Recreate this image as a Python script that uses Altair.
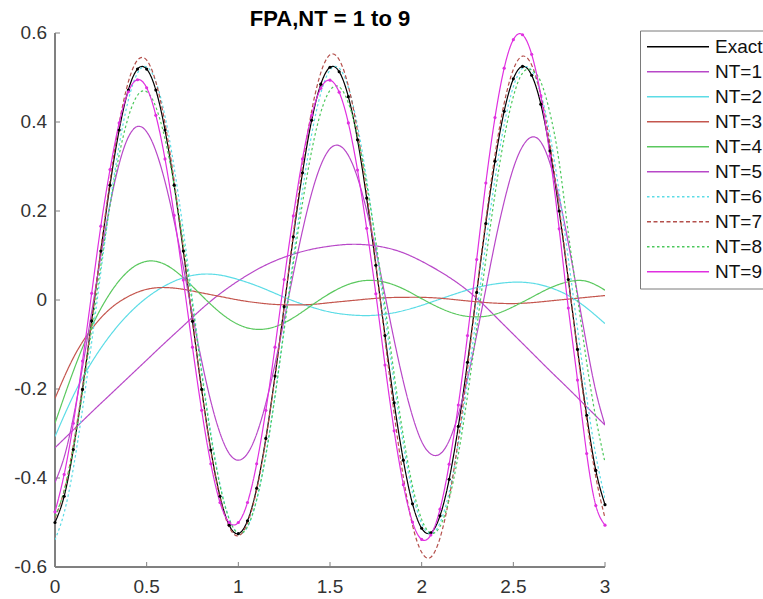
import altair as alt
import pandas as pd

# ---------------- data ----------------
series_names = ["Exact", "NT=1", "NT=2", "NT=3", "NT=4", "NT=5", "NT=6", "NT=7", "NT=8", "NT=9"]

x_fast = [round(0.05 * i, 2) for i in range(61)]   # 0 .. 3 step 0.05
x_slow = [round(0.1 * i, 1) for i in range(31)]    # 0 .. 3 step 0.1

exact = [-0.500, -0.441, -0.336, -0.201, -0.047, 0.110, 0.258, 0.382, 0.472, 0.519,
         0.519, 0.472, 0.382, 0.258, 0.110, -0.048, -0.201, -0.337, -0.441, -0.506,
         -0.525, -0.496, -0.423, -0.311, -0.171, -0.015, 0.142, 0.286, 0.404, 0.485,
         0.523, 0.513, 0.457, 0.360, 0.229, 0.078, -0.080, -0.231, -0.360, -0.458,
         -0.513, -0.523, -0.485, -0.403, -0.284, -0.140, 0.017, 0.172, 0.312, 0.424,
         0.497, 0.525, 0.505, 0.440, 0.335, 0.200, 0.046, -0.111, -0.259, -0.383,
         -0.460]

nt1 = [-0.332, -0.292, -0.252, -0.213, -0.174, -0.135, -0.096, -0.058, -0.020, 0.014,
       0.043, 0.068, 0.088, 0.103, 0.114, 0.121, 0.125, 0.124, 0.118, 0.106,
       0.087, 0.064, 0.037, 0.004, -0.036, -0.077, -0.118, -0.159, -0.199, -0.240,
       -0.281]

nt2 = [-0.307, -0.215, -0.140, -0.080, -0.032, 0.005, 0.032, 0.050, 0.058, 0.056,
       0.046, 0.032, 0.015, -0.002, -0.016, -0.027, -0.033, -0.035, -0.032, -0.024,
       -0.012, 0.002, 0.016, 0.028, 0.036, 0.040, 0.038, 0.028, 0.010, -0.018,
       -0.053]

nt3 = [-0.221, -0.130, -0.065, -0.020, 0.008, 0.024, 0.028, 0.024, 0.016, 0.008,
       0.000, -0.006, -0.010, -0.011, -0.010, -0.006, -0.002, 0.002, 0.005, 0.006,
       0.006, 0.004, 0.000, -0.004, -0.007, -0.008, -0.006, -0.002, 0.002, 0.006,
       0.010]

nt4 = [-0.277, -0.160, -0.060, 0.015, 0.065, 0.087, 0.080, 0.050, 0.010, -0.028,
       -0.055, -0.066, -0.060, -0.040, -0.012, 0.015, 0.035, 0.044, 0.040, 0.025,
       0.003, -0.018, -0.033, -0.038, -0.032, -0.015, 0.006, 0.027, 0.041, 0.042,
       0.022]

nt5 = [-0.410, -0.353, -0.264, -0.151, -0.027, 0.099, 0.214, 0.306, 0.366, 0.390,
       0.378, 0.335, 0.266, 0.177, 0.074, -0.034, -0.137, -0.228, -0.299, -0.345,
       -0.360, -0.345, -0.301, -0.232, -0.144, -0.044, 0.059, 0.156, 0.240, 0.303,
       0.340, 0.347, 0.325, 0.275, 0.201, 0.111, 0.011, -0.090, -0.183, -0.261,
       -0.318, -0.346, -0.346, -0.316, -0.257, -0.176, -0.079, 0.025, 0.129, 0.221,
       0.296, 0.345, 0.366, 0.355, 0.307, 0.229, 0.128, 0.014, -0.101, -0.205,
       -0.281]

nt6 = [-0.539, -0.478, -0.378, -0.246, -0.095, 0.063, 0.216, 0.348, 0.449, 0.510,
       0.524, 0.491, 0.413, 0.298, 0.156, 0.000, -0.157, -0.299, -0.414, -0.491,
       -0.524, -0.510, -0.449, -0.348, -0.215, -0.063, 0.095, 0.245, 0.372, 0.465,
       0.517, 0.521, 0.478, 0.392, 0.271, 0.125, -0.033, -0.187, -0.324, -0.433,
       -0.502, -0.525, -0.501, -0.432, -0.323, -0.185, -0.031, 0.127, 0.272, 0.394,
       0.479, 0.521, 0.516, 0.464, 0.371, 0.243, 0.093, -0.064, -0.217, -0.349,
       -0.445]

nt7 = [-0.490, -0.428, -0.326, -0.195, -0.046, 0.114, 0.268, 0.397, 0.490, 0.539,
       0.539, 0.490, 0.397, 0.268, 0.114, -0.048, -0.203, -0.340, -0.445, -0.510,
       -0.530, -0.501, -0.427, -0.314, -0.172, -0.015, 0.149, 0.301, 0.425, 0.511,
       0.551, 0.540, 0.481, 0.379, 0.242, 0.082, -0.088, -0.255, -0.398, -0.506,
       -0.567, -0.578, -0.535, -0.445, -0.314, -0.155, 0.018, 0.180, 0.326, 0.442,
       0.518, 0.548, 0.528, 0.460, 0.350, 0.209, 0.048, -0.116, -0.269, -0.398,
       -0.490]

nt8 = [-0.486, -0.429, -0.334, -0.209, -0.065, 0.078, 0.212, 0.326, 0.411, 0.460,
       0.468, 0.434, 0.362, 0.257, 0.129, -0.011, -0.165, -0.305, -0.417, -0.492,
       -0.524, -0.509, -0.449, -0.349, -0.217, -0.067, 0.082, 0.218, 0.335, 0.422,
       0.471, 0.479, 0.443, 0.369, 0.261, 0.131, -0.013, -0.167, -0.306, -0.418,
       -0.493, -0.524, -0.509, -0.448, -0.347, -0.215, -0.064, 0.091, 0.238, 0.364,
       0.457, 0.510, 0.517, 0.490, 0.420, 0.310, 0.150, 0.005, -0.140, -0.265,
       -0.365]

nt9 = [-0.476, -0.392, -0.277, -0.137, 0.015, 0.166, 0.293, 0.398, 0.468, 0.495,
       0.477, 0.415, 0.317, 0.190, 0.045, -0.106, -0.248, -0.368, -0.455, -0.500,
       -0.500, -0.455, -0.368, -0.248, -0.106, 0.046, 0.189, 0.317, 0.415, 0.476,
       0.494, 0.467, 0.398, 0.292, 0.161, 0.014, -0.146, -0.294, -0.415, -0.499,
       -0.538, -0.528, -0.470, -0.369, -0.236, -0.080, 0.091, 0.263, 0.410, 0.521,
       0.585, 0.596, 0.552, 0.459, 0.324, 0.160, -0.018, -0.180, -0.345, -0.462,
       -0.506]

x_ticks = [0, 0.5, 1, 1.5, 2, 2.5, 3]
x_tick_labels = ["0", "0.5", "1", "1.5", "2", "2.5", "3"]
y_ticks = [-0.6, -0.4, -0.2, 0, 0.2, 0.4, 0.6]
y_tick_labels = ["-0.6", "-0.4", "-0.2", "0", "0.2", "0.4", "0.6"]

# ---------------- styles ----------------
colors = ["#000000", "#b848c8", "#5cdce6", "#c4564e", "#5ac85e",
          "#b848c8", "#5cdce6", "#b4504c", "#4cc85c", "#e030e0"]
dashes = [[1, 0], [1, 0], [1, 0], [1, 0], [1, 0],
          [1, 0], [2.5, 2.5], [4, 2.5], [2.5, 2.5], [1, 0]]
FONT = "Liberation Sans, Arial, Helvetica, sans-serif"
W, H = 550, 534
AXIS_COLOR = "#808080"

columns = [("Exact", x_fast, exact), ("NT=1", x_slow, nt1), ("NT=2", x_slow, nt2),
           ("NT=3", x_slow, nt3), ("NT=4", x_slow, nt4), ("NT=5", x_fast, nt5),
           ("NT=6", x_fast, nt6), ("NT=7", x_fast, nt7), ("NT=8", x_fast, nt8),
           ("NT=9", x_fast, nt9)]
rows = []
for idx, (name, xs, ys) in enumerate(columns):
    for xv, yv in zip(xs, ys):
        rows.append({"x": xv, "y": yv, "series": name, "k": idx})
df = pd.DataFrame(rows)

xscale = alt.Scale(domain=[0, 3], nice=False, zero=False)
yscale = alt.Scale(domain=[-0.6, 0.6], nice=False, zero=False)

legend = alt.Legend(
    title=None, orient="none", legendX=585, legendY=-2.5,
    symbolType="stroke", symbolSize=3844, symbolStrokeWidth=1.4,
    clipHeight=24.4, rowPadding=0, padding=4, symbolOffset=2,
    labelFontSize=19, labelFont=FONT, labelColor="#111111", labelOffset=5,
    strokeColor="#7a7a7a", fillColor="white", labelLimit=200,
)

color_enc = alt.Color("series:N", scale=alt.Scale(domain=series_names, range=colors), legend=legend)
dash_enc = alt.StrokeDash("series:N", scale=alt.Scale(domain=series_names, range=dashes), legend=legend)

base = alt.Chart(df)

lines = base.mark_line(interpolate="natural", strokeWidth=1.2, clip=True).encode(
    x=alt.X("x:Q", scale=xscale, axis=None),
    y=alt.Y("y:Q", scale=yscale, axis=None),
    color=color_enc,
    strokeDash=dash_enc,
    order=alt.Order("x:Q"),
)

markers = base.transform_filter(
    alt.FieldOneOfPredicate(field="series", oneOf=["Exact", "NT=9"])
).mark_circle(size=10, opacity=1).encode(
    x=alt.X("x:Q", scale=xscale, axis=None),
    y=alt.Y("y:Q", scale=yscale, axis=None),
    color=alt.Color("series:N", scale=alt.Scale(domain=series_names, range=colors), legend=None),
)

# hand-drawn axes (left and bottom only, MATLAB style with inward ticks)
xt = pd.DataFrame({"x": x_ticks, "label": x_tick_labels})
yt = pd.DataFrame({"y": y_ticks, "label": y_tick_labels})

x_domain = alt.Chart(xt).mark_rule(color=AXIS_COLOR, strokeWidth=1).encode(
    x=alt.value(0), x2=alt.value(W), y=alt.value(H))
y_domain = alt.Chart(yt).mark_rule(color=AXIS_COLOR, strokeWidth=1).encode(
    y=alt.value(0), y2=alt.value(H), x=alt.value(0))

xtick_marks = alt.Chart(xt).mark_rule(color=AXIS_COLOR, strokeWidth=1).encode(
    x=alt.X("x:Q", scale=xscale, axis=None), y=alt.value(H), y2=alt.value(H - 5))
ytick_marks = alt.Chart(yt).mark_rule(color=AXIS_COLOR, strokeWidth=1).encode(
    y=alt.Y("y:Q", scale=yscale, axis=None), x=alt.value(0), x2=alt.value(5))

xlabels = alt.Chart(xt).mark_text(font=FONT, fontSize=19, color="#333333",
                                  align="center", baseline="top").encode(
    x=alt.X("x:Q", scale=xscale, axis=None), y=alt.value(H + 11), text="label:N")
ylabels = alt.Chart(yt).mark_text(font=FONT, fontSize=19, color="#333333",
                                  align="right", baseline="middle").encode(
    y=alt.Y("y:Q", scale=yscale, axis=None), x=alt.value(-8), text="label:N")

chart = alt.layer(x_domain, y_domain, xtick_marks, ytick_marks, xlabels, ylabels,
                  lines, markers).properties(
    width=W, height=H,
    background="white",
    title=alt.Title("FPA,NT = 1 to 9", font=FONT, fontSize=22, fontWeight="bold",
                    color="#000000", anchor="middle", baseline="alphabetic", offset=0, dy=24),
    padding={"left": 55, "top": 33, "right": 158, "bottom": 32},
    autosize=alt.AutoSizeParams(type="none"),
).configure_view(stroke=None, strokeWidth=0)

chart.save("out.html", embed_options={"renderer": "svg", "actions": False})
